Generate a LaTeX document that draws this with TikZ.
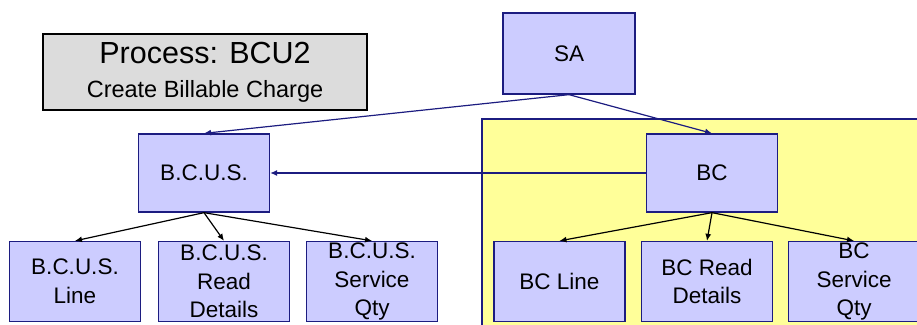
\documentclass[tikz,border=0pt]{standalone}
\usepackage{fontspec}
\setmainfont{Liberation Sans}
\usetikzlibrary{arrows.meta}
\definecolor{boxblue}{HTML}{CCCCFF}
\definecolor{boxline}{HTML}{1C1C80}
\definecolor{areayellow}{HTML}{FFFF99}
\definecolor{titlegray}{HTML}{DCDCDC}

\begin{document}
\begin{tikzpicture}[x=1pt, y=-1pt,
    entity/.style={draw=boxline, fill=boxblue, line width=1.3pt, minimum width=131pt, minimum height=80pt, inner sep=0pt},
    txt/.style={align=center, font=\fontsize{22.5}{28.5}\selectfont},
    link/.style={draw=boxline, line width=1.2pt, -{Latex[length=7pt,width=6pt]}},
    child/.style={draw=black, line width=1.2pt, -{Latex[length=7pt,width=6pt]}}]

        \clip (0,0) rectangle (917,324);

        % Title box
        \node[draw=black, fill=titlegray, line width=1.3pt, minimum width=324pt, minimum height=76pt, align=center,
              font=\fontsize{30.5}{34}\selectfont] (process) at (205,72)
            {Process: BCU2\\{\fontsize{23.5}{34}\selectfont Create Billable Charge}};

        % Shaded area round the billable charge
        \draw[draw=boxline, fill=areayellow, line width=1.3pt] (482,119) rectangle (935,340);

        % Upper entities
        \node[entity, minimum width=132pt, minimum height=81pt, label={[txt]center:SA}] (sa) at (569,53.5) {};
        \node[entity, minimum height=78pt, label={[txt]center:B.C.U.S.}] (bcus) at (204,173) {};
        \node[entity, minimum height=78pt, label={[txt]center:BC}] (bc) at (712,173) {};

        % Lower entities
        \node[entity, label={[txt]center:B.C.U.S.\\Line}] (bcusline) at (75,281.5) {};
        \node[entity, label={[txt]center:B.C.U.S.\\Read\\Details}] (bcusread) at (224,281.5) {};
        \node[entity, label={[txt]center:B.C.U.S.\\Service\\Qty}] (bcusqty) at (372,281.5) {};
        \node[entity, label={[txt]center:BC Line}] (bcline) at (559.5,281.5) {};
        \node[entity, label={[txt]center:BC Read\\Details}] (bcread) at (707,281.5) {};
        \node[entity, label={[txt]center:BC\\Service\\Qty}] (bcqty) at (854,281.5) {};

        % Links
        \draw[link] (sa.south) -- (bcus.north);
        \draw[link] (sa.south) -- (bc.north);
        \draw[link] (bc.west) -- (bcus.east);

        \draw[child] (bcus.south) -- (bcusline.north);
        \draw[child] (bcus.south) -- (bcusread.north);
        \draw[child] (bcus.south) -- (bcusqty.north);
        \draw[child] (bc.south) -- (bcline.north);
        \draw[child] (bc.south) -- (bcread.north);
        \draw[child] (bc.south) -- (bcqty.north);

    \end{tikzpicture}
\end{document}
